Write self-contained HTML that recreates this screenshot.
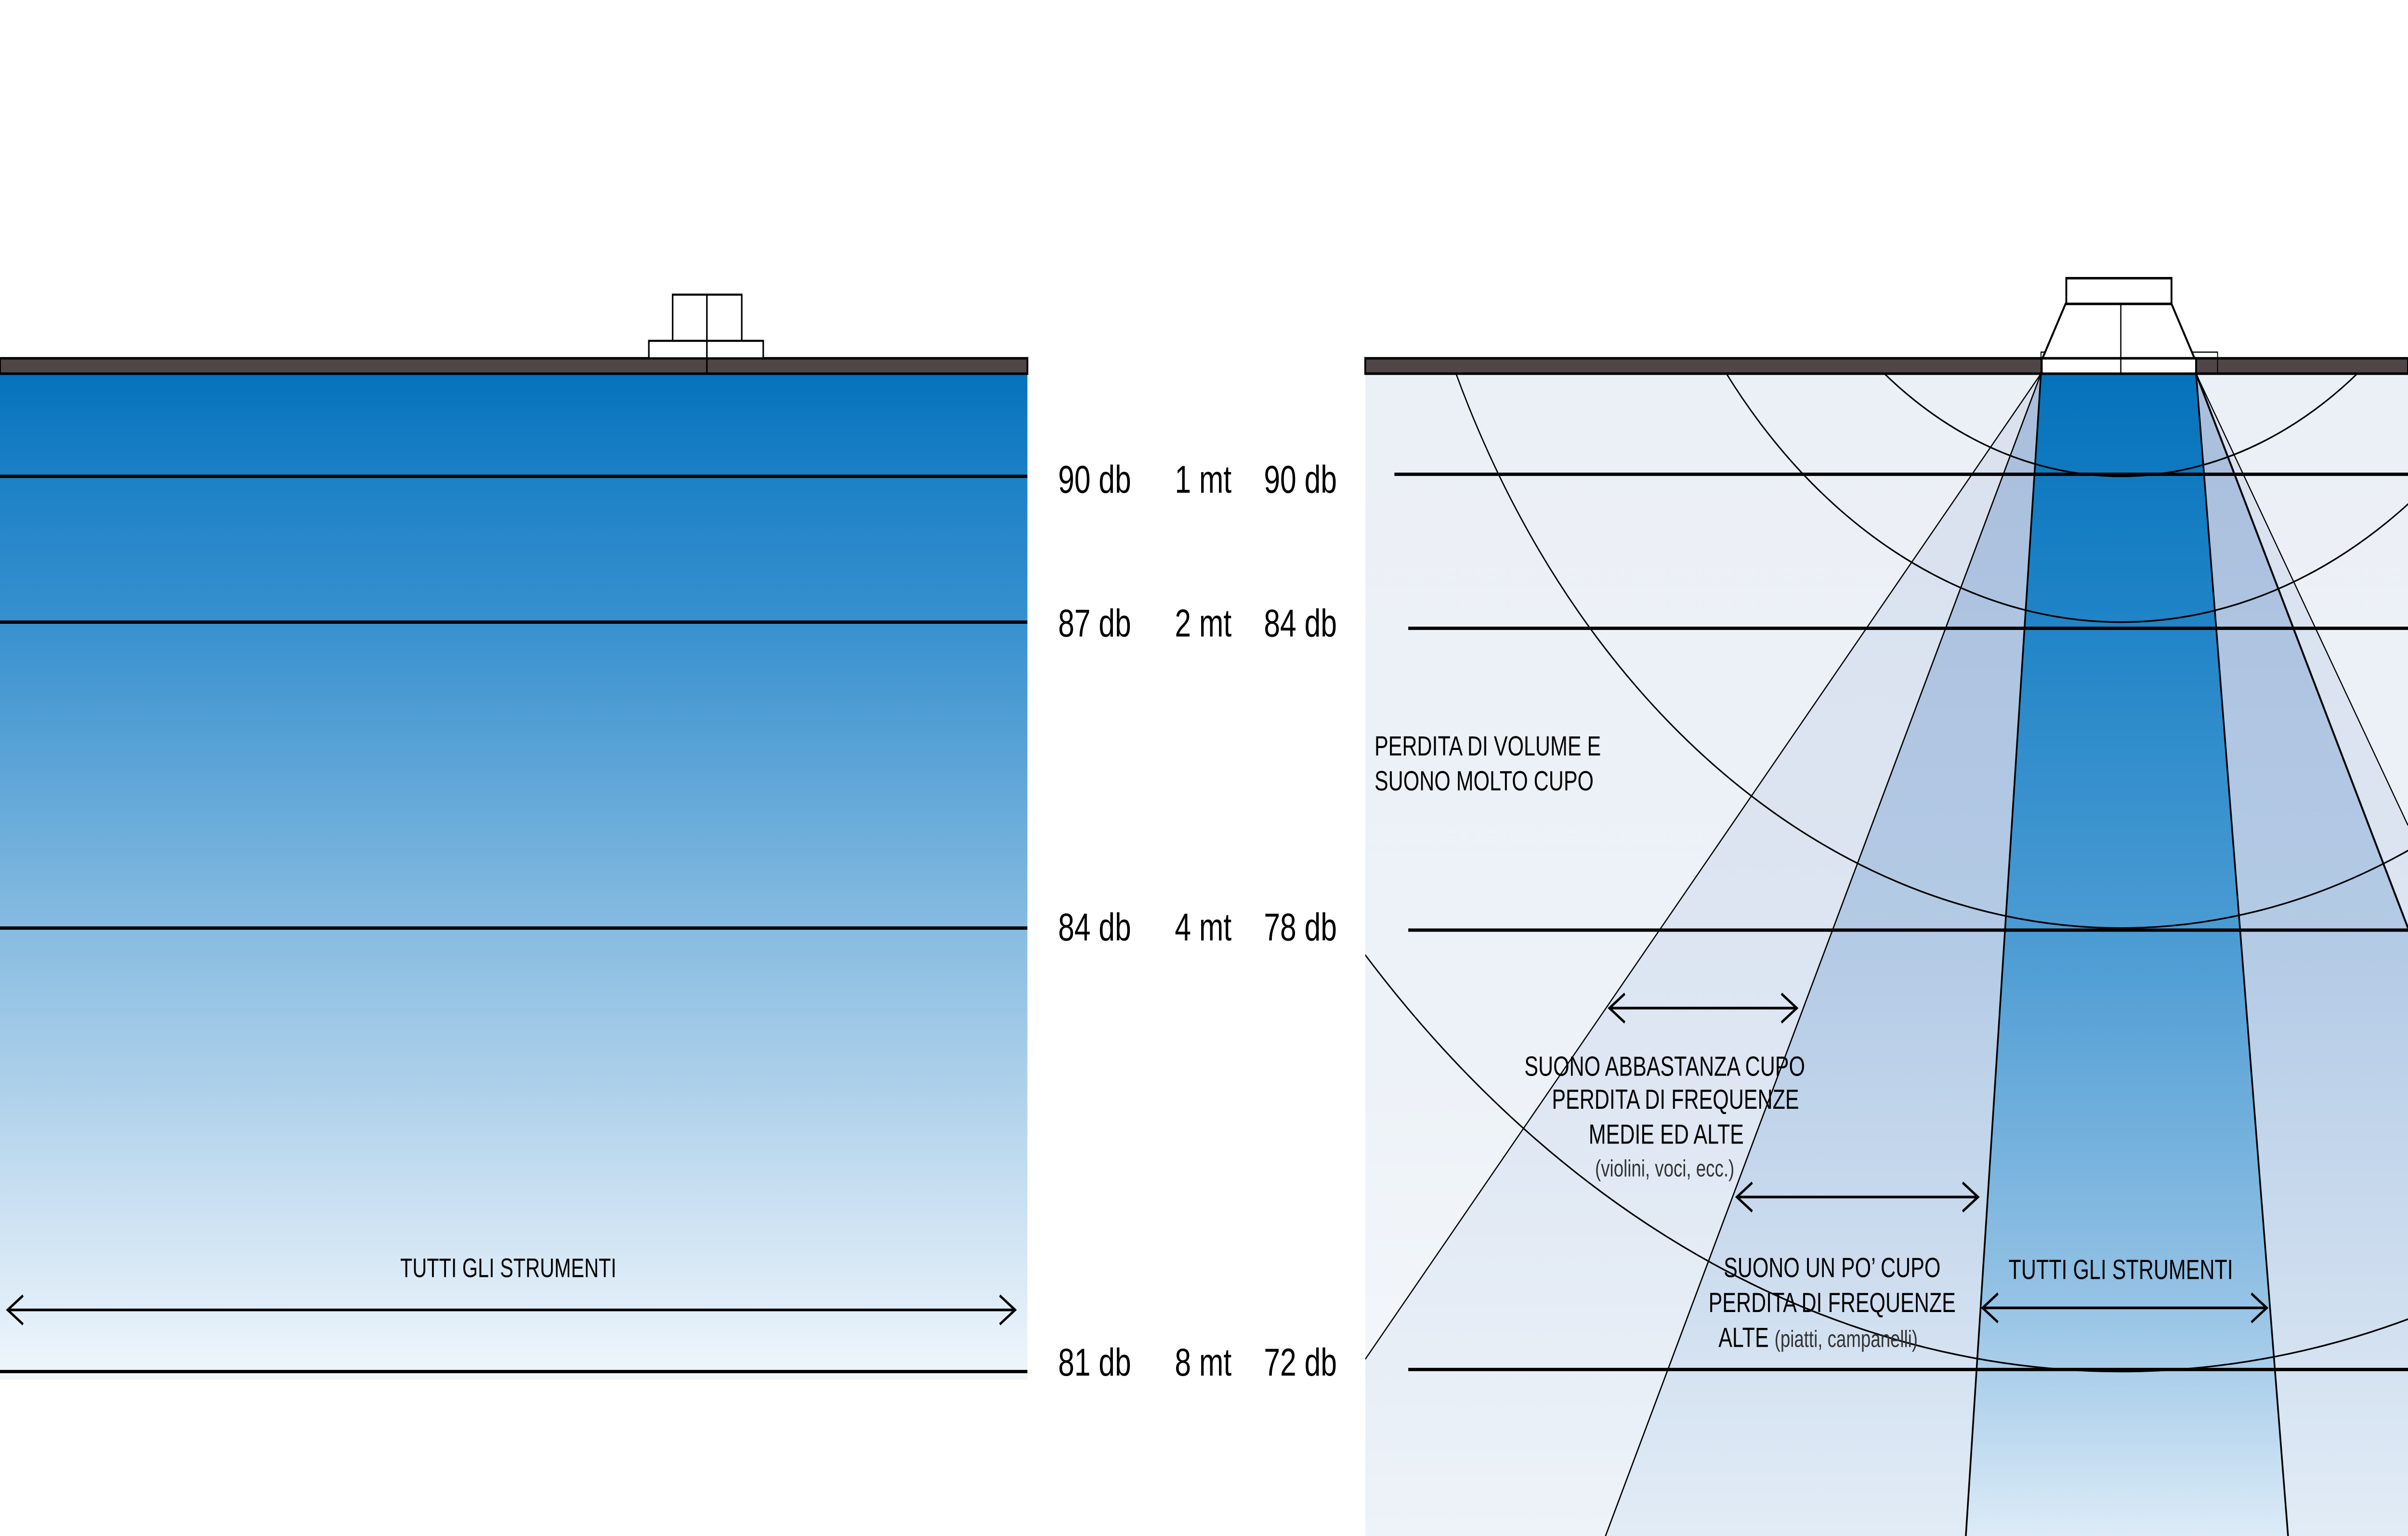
<!DOCTYPE html>
<html><head><meta charset="utf-8"><style>html,body{margin:0;padding:0;background:#fff;width:100%;height:100%;overflow:hidden}svg{display:block;width:100vw;height:100vh}</style></head>
<body>
<svg viewBox="0 0 1568 748.1" preserveAspectRatio="none" xmlns="http://www.w3.org/2000/svg" font-family="'Liberation Sans', sans-serif">
<defs>
<linearGradient id="lb" gradientUnits="userSpaceOnUse" x1="0" y1="182" x2="0" y2="690">
<stop offset="0" stop-color="#0572bc"/><stop offset="0.1" stop-color="#1c81c6"/><stop offset="0.25" stop-color="#3a92cf"/><stop offset="0.53" stop-color="#86bbe0"/><stop offset="0.8" stop-color="#cbe1f2"/><stop offset="1" stop-color="#f8fbfe"/></linearGradient>
<linearGradient id="cb" gradientUnits="userSpaceOnUse" x1="0" y1="182" x2="0" y2="748">
<stop offset="0" stop-color="#0572bc"/><stop offset="0.2" stop-color="#1e83c6"/><stop offset="0.5" stop-color="#4e9dd4"/><stop offset="0.8" stop-color="#96c3e5"/><stop offset="1" stop-color="#dcebf7"/></linearGradient>
<linearGradient id="mb" gradientUnits="userSpaceOnUse" x1="0" y1="182" x2="0" y2="748">
<stop offset="0" stop-color="#a9bedc"/><stop offset="0.5" stop-color="#b4cbe6"/><stop offset="1" stop-color="#e2ecf6"/></linearGradient>
<linearGradient id="ob" gradientUnits="userSpaceOnUse" x1="0" y1="182" x2="0" y2="748">
<stop offset="0" stop-color="#d9e1ee"/><stop offset="0.6" stop-color="#dde6f2"/><stop offset="1" stop-color="#eef3f9"/></linearGradient>
<linearGradient id="bg" gradientUnits="userSpaceOnUse" x1="0" y1="182" x2="0" y2="748">
<stop offset="0" stop-color="#ebf0f6"/><stop offset="0.6" stop-color="#edf2f8"/><stop offset="1" stop-color="#f6f9fc"/></linearGradient>
<clipPath id="rc"><rect x="889" y="182" width="679" height="567"/></clipPath>
</defs>

<rect x="0" y="182" width="669" height="490" fill="url(#lb)"/>
<g stroke="#000" stroke-width="1.6">
<line x1="0" y1="232" x2="669" y2="232"/><line x1="0" y1="303" x2="669" y2="303"/>
<line x1="0" y1="452" x2="669" y2="452"/><line x1="0" y1="668" x2="669" y2="668"/>
</g>
<rect x="0" y="174.5" width="669" height="7.5" fill="#514647" stroke="#000" stroke-width="1.2"/>
<g fill="#fff" stroke="#000" stroke-width="1">
<rect x="438" y="143.5" width="45" height="22.5"/>
<rect x="422.5" y="166" width="74.5" height="8.5"/>
<line x1="460.3" y1="143.5" x2="460.3" y2="182"/>
</g>
<g stroke="#000" stroke-width="1.3" fill="none">
<line x1="5" y1="638" x2="661" y2="638"/>
<polyline points="15,631 5,638 15,645"/><polyline points="651,631 661,638 651,645"/>
</g>
<text x="331" y="622" font-size="13" text-anchor="middle">TUTTI GLI STRUMENTI</text>

<g font-size="19" fill="#000">
<text x="689" y="240">90 db</text><text x="765" y="240">1 mt</text><text x="823" y="240">90 db</text>
<text x="689" y="310">87 db</text><text x="765" y="310">2 mt</text><text x="823" y="310">84 db</text>
<text x="689" y="458">84 db</text><text x="765" y="458">4 mt</text><text x="823" y="458">78 db</text>
<text x="689" y="670">81 db</text><text x="765" y="670">8 mt</text><text x="823" y="670">72 db</text>
</g>

<g clip-path="url(#rc)">
<rect x="889" y="182" width="679" height="567" fill="url(#bg)"/>
<polygon points="1329,182 889,662 889,749 1568,749 1568,402 1430,182" fill="url(#ob)"/>
<polygon points="1329,182 1045,749 1568,749 1568,452 1430,182" fill="url(#mb)"/>
<polygon points="1329,182 1280,749 1490,749 1430,182" fill="url(#cb)"/>
<g stroke="#000" fill="none">
<line x1="1329" y1="182" x2="889" y2="662" stroke-width="0.7"/>
<line x1="1430" y1="182" x2="1568" y2="402" stroke-width="0.7"/>
<line x1="1329" y1="182" x2="1045" y2="749" stroke-width="0.8"/>
<line x1="1430" y1="182" x2="1568" y2="452" stroke-width="1.2"/>
<line x1="1329" y1="182" x2="1280" y2="749" stroke-width="1.1"/>
<line x1="1430" y1="182" x2="1490" y2="749" stroke-width="1.1"/>
<circle cx="1381" cy="-30" r="262" stroke-width="0.8"/>
<circle cx="1381" cy="-30" r="333" stroke-width="0.8"/>
<circle cx="1381" cy="-30" r="482" stroke-width="0.8"/>
<circle cx="1381" cy="-30" r="698" stroke-width="0.8"/>
</g>
</g>
<g stroke="#000" stroke-width="1.6">
<line x1="908" y1="231" x2="1568" y2="231"/><line x1="917" y1="306" x2="1568" y2="306"/>
<line x1="917" y1="453" x2="1568" y2="453"/><line x1="917" y1="667" x2="1568" y2="667"/>
</g>
<rect x="889" y="174.5" width="679" height="7.5" fill="#514647" stroke="#000" stroke-width="1.2"/>
<g stroke="#000" fill="#fff">
<rect x="1329" y="171.5" width="115" height="10.5" fill="none" stroke-width="0.6"/>
<rect x="1329.5" y="174.5" width="100.5" height="7.5" stroke-width="1.2"/>
<polygon points="1345,148 1414,148 1429,174.5 1330,174.5" stroke-width="1.2"/>
<rect x="1345.5" y="135.5" width="68.5" height="12.5" stroke-width="1.2"/>
<line x1="1381" y1="148" x2="1381" y2="182" stroke-width="0.8"/>
</g>
<g stroke="#000" stroke-width="1.3" fill="none">
<line x1="1048" y1="491" x2="1170" y2="491"/><polyline points="1058,484 1048,491 1058,498"/><polyline points="1160,484 1170,491 1160,498"/>
<line x1="1131" y1="583" x2="1288" y2="583"/><polyline points="1141,576 1131,583 1141,590"/><polyline points="1278,576 1288,583 1278,590"/>
<line x1="1291" y1="637" x2="1476" y2="637"/><polyline points="1301,630 1291,637 1301,644"/><polyline points="1466,630 1476,637 1466,644"/>
</g>
<g font-size="13.5" fill="#000">
<text x="895" y="368">PERDITA DI VOLUME E</text>
<text x="895" y="385">SUONO MOLTO CUPO</text>
<text x="1084" y="524" text-anchor="middle">SUONO ABBASTANZA CUPO</text>
<text x="1091" y="540" text-anchor="middle">PERDITA DI FREQUENZE</text>
<text x="1085" y="557" text-anchor="middle">MEDIE ED ALTE</text>
<text x="1084" y="573" text-anchor="middle" font-size="11.5" fill="#333">(violini, voci, ecc.)</text>
<text x="1193" y="622" text-anchor="middle">SUONO UN PO’ CUPO</text>
<text x="1193" y="639" text-anchor="middle">PERDITA DI FREQUENZE</text>
<text x="1119" y="656">ALTE <tspan font-size="11.5" fill="#333"> (piatti, campanelli)</tspan></text>
<text x="1381" y="623" text-anchor="middle">TUTTI GLI STRUMENTI</text>
</g>
</svg>
</body></html>
